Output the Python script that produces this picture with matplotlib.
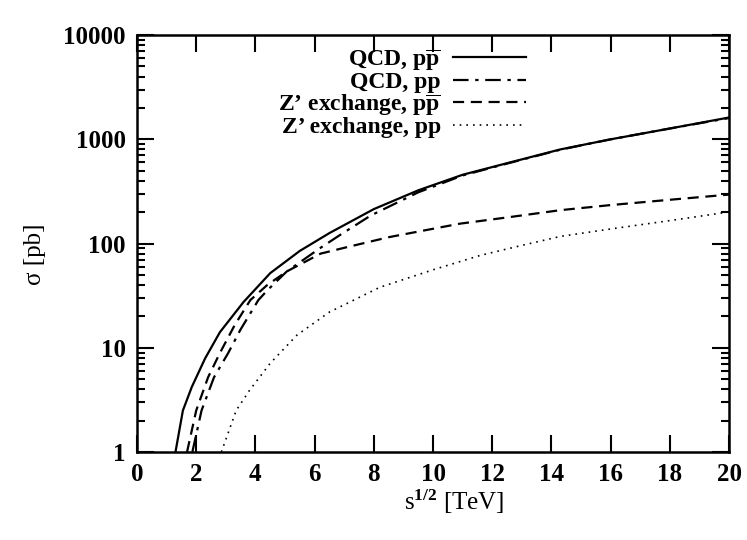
import matplotlib
matplotlib.use("Agg")
import matplotlib.pyplot as plt
from matplotlib.ticker import LogLocator, FixedLocator, NullFormatter

plt.rcParams['font.family'] = ['Liberation Serif', 'DejaVu Serif']
plt.rcParams['font.weight'] = 'bold'
plt.rcParams['mathtext.fontset'] = 'custom'
plt.rcParams['mathtext.rm'] = 'Liberation Serif:bold'
plt.rcParams['mathtext.bf'] = 'Liberation Serif:bold'
plt.rcParams['mathtext.it'] = 'Liberation Serif:bold'

# sqrt(s) [TeV] and cross sections [pb]
x_qcd_ppbar = [1.3, 1.55, 1.85, 2.3, 2.8, 3.6, 4.5, 5.5, 6.5, 8, 9.5, 11, 12.5, 14.3, 16, 18, 20]
s_qcd_ppbar = [1, 2.5, 4.2, 7.9, 14.1, 27.5, 52, 85, 126, 214, 324, 457, 590, 800, 1000, 1270, 1620]

x_qcd_pp = [1.87, 2.18, 2.6, 3.08, 3.5, 4.1, 4.4, 5.06, 6.2, 6.9, 7.9, 9.5, 11, 12.5, 14.3, 16, 18, 20]
s_qcd_pp = [1, 2.5, 5.2, 8.9, 15, 28.7, 35.5, 54, 91, 123, 186, 310, 450, 585, 795, 1000, 1270, 1600]

x_zp_ppbar = [1.69, 2.0, 2.4, 2.8, 3.3, 3.83, 4.4, 5.06, 6.2, 7.0, 8.5, 10.9, 12.5, 14.3, 16, 18, 20]
s_zp_ppbar = [1, 2.5, 5.2, 8.9, 16.5, 28.7, 40, 54, 80, 91, 115, 155, 178, 209, 234, 263, 295]

x_zp_pp = [2.85, 3.35, 3.8, 4.5, 5.4, 6.5, 8.2, 10, 11.6, 13, 14.3, 16, 18, 20]
s_zp_pp = [1, 2.5, 3.9, 7.1, 13.2, 22, 38, 56, 77, 96, 117, 138, 166, 201]

labels = ["QCD, p$\\overline{\\mathrm{p}}$", "QCD, pp",
          "Z\u2019 exchange, p$\\overline{\\mathrm{p}}$", "Z\u2019 exchange, pp"]

fig = plt.figure(figsize=(7.47, 5.40), dpi=100)
ax = fig.add_axes([0.1834, 0.163, 0.7926, 0.772])

ax.plot(x_qcd_ppbar, s_qcd_ppbar, color='black', lw=1.6, ls='-', label=labels[0])
ax.plot(x_qcd_pp, s_qcd_pp, color='black', lw=1.6, ls=(0, (7, 3, 1.5, 3)), label=labels[1])
ax.plot(x_zp_ppbar, s_zp_ppbar, color='black', lw=1.6, ls=(0, (5, 3)), label=labels[2])
ax.plot(x_zp_pp, s_zp_pp, color='black', lw=1.2, ls=(0, (1, 3)), label=labels[3])

ax.set_yscale('log')
ax.set_xlim(0, 20)
ax.set_ylim(1, 10000)
ax.xaxis.set_major_locator(FixedLocator(range(0, 21, 2)))
ax.yaxis.set_minor_locator(LogLocator(base=10, subs=range(2, 10)))
ax.yaxis.set_minor_formatter(NullFormatter())
ax.set_yticks([1, 10, 100, 1000, 10000])
ax.set_yticklabels(['1', '10', '100', '1000', '10000'])

ax.tick_params(which='both', direction='in', top=True, right=True, width=1.5,
               labelsize=18, pad=8)
ax.tick_params(which='major', length=12)
ax.tick_params(which='minor', length=6)
for sp in ax.spines.values():
    sp.set_linewidth(1.8)

ax.set_xlabel("s$^{1/2}$ [TeV]", fontsize=18, va='center')
ax.xaxis.set_label_coords(0.535, -0.12)
ax.set_ylabel("\u03c3 [pb]", fontsize=18, va='center')
ax.yaxis.set_label_coords(-0.172, 0.475)

leg = ax.legend(loc='upper right', bbox_to_anchor=(0.657, 0.972), frameon=False,
                markerfirst=False, fontsize=17, handlelength=3.1,
                labelspacing=-0.05, handletextpad=0.5, borderpad=0, borderaxespad=0)
for t in leg.get_texts():
    t.set_ha('right')

fig.savefig("out.png", dpi=100)
